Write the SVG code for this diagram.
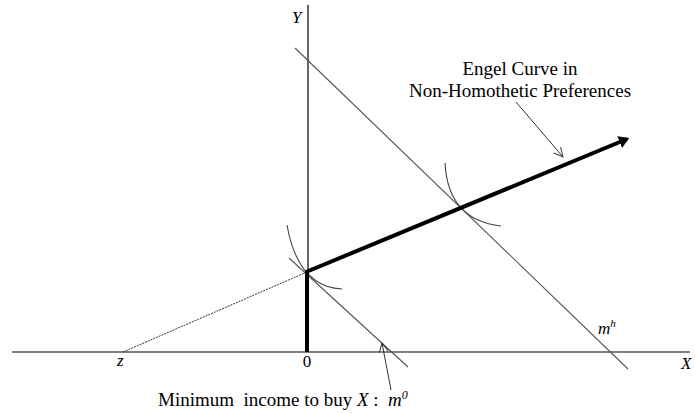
<svg xmlns="http://www.w3.org/2000/svg" width="695" height="413" viewBox="0 0 695 413">
  <style>
    text { font-family: "Liberation Serif", "Times New Roman", serif; fill: #000; }
    .it { font-style: italic; }
    .axis { stroke: #000; stroke-width: 1.2; fill: none; }
    .budget { stroke: #555; stroke-width: 1.1; fill: none; }
    .ic { stroke: #444; stroke-width: 1.1; fill: none; }
    .thick { stroke: #000; stroke-width: 4; fill: none; }
    .ptr { stroke: #333; stroke-width: 1; fill: none; }
  </style>
  <defs>
    <marker id="head" markerWidth="4" markerHeight="4" refX="2" refY="2" orient="auto" markerUnits="strokeWidth">
      <path d="M0,0.4 L2.6,2 L0,3.6 Z" fill="#000"/>
    </marker>
    <marker id="open" markerWidth="12" markerHeight="12" refX="10" refY="6" orient="auto" markerUnits="userSpaceOnUse">
      <path d="M1,1.5 L10,6 L1,10.5" fill="none" stroke="#333" stroke-width="1"/>
    </marker>
  </defs>
  <rect width="695" height="413" fill="#fff"/>

  <g id="axes">
    <line class="axis" x1="12" y1="352" x2="690" y2="352"/>
    <line class="axis" x1="308" y1="5" x2="308" y2="352"/>
    <text class="it" x="292" y="23" font-size="17">Y</text>
    <text class="it" x="681" y="369" font-size="17">X</text>
    <text class="it" x="117" y="366" font-size="17">z</text>
    <text x="307" y="367" font-size="17" text-anchor="middle">0</text>
  </g>

  <g id="budget-lines">
    <line class="budget" x1="295" y1="48" x2="628" y2="369"/>
    <line class="budget" x1="289" y1="258" x2="408" y2="367"/>
  </g>

  <g id="indifference-curves">
    <path class="ic" d="M445,163 Q448,220 501,226"/>
    <path class="ic" d="M287,225 Q298,287 342,289"/>
  </g>

  <g id="engel-curve">
    <line x1="123" y1="352" x2="307" y2="272" stroke="#333" stroke-width="1" stroke-dasharray="2,1"/>
    <line class="thick" x1="307" y1="352" x2="307" y2="271"/>
    <line class="thick" x1="306" y1="272" x2="627" y2="139" marker-end="url(#head)"/>
  </g>

  <g id="connectors">
    <line class="ptr" x1="516" y1="102" x2="563" y2="157" marker-end="url(#open)"/>
    <line class="ptr" x1="391" y1="390" x2="382" y2="343" marker-end="url(#open)"/>
  </g>

  <g id="label-engel">
    <text x="520" y="75" font-size="19" text-anchor="middle">Engel Curve in</text>
    <text x="520" y="97" font-size="19" text-anchor="middle">Non-Homothetic Preferences</text>
  </g>

  <g id="label-mh">
    <text class="it" x="598" y="334" font-size="17">m<tspan font-size="11" dy="-7">h</tspan></text>
  </g>

  <g id="label-m0">
    <text x="158" y="406" font-size="19" xml:space="preserve">Minimum  income to buy <tspan class="it">X</tspan> :  <tspan class="it">m</tspan><tspan class="it" font-size="12" dy="-7">0</tspan></text>
  </g>
</svg>
